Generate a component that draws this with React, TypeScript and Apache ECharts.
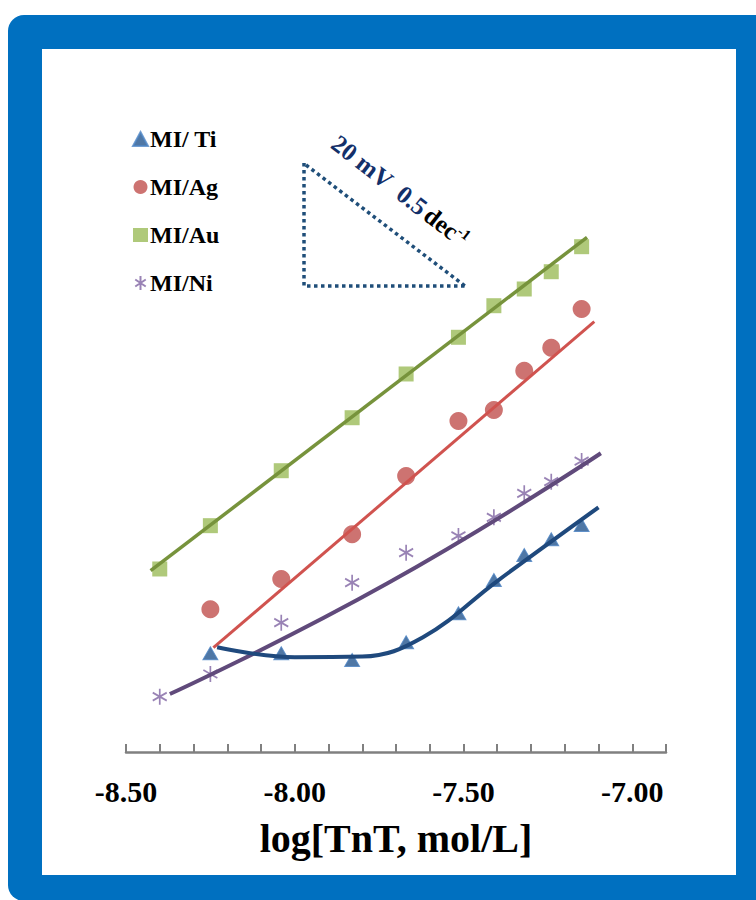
import React, { useEffect, useRef } from "react";
import * as echarts from "echarts";

// log concentrations (x) shared by all sensors
const xVals = [-8.4, -8.25, -8.04, -7.83, -7.67, -7.515, -7.41, -7.32, -7.24, -7.15];
// potentials (mV, relative)
const tiVals = [null, 15.82, 15.82, 14.74, 17.58, 22.23, 27.56, 31.57, 34.09, 36.38];
const agVals = [null, 22.87, 27.72, 34.89, 44.23, 53.04, 54.81, 61.11, 64.79, 70.99];
const auVals = [29.33, 36.27, 45.08, 53.57, 60.58, 66.46, 71.52, 74.2, 76.97, 80.98];
const niVals = [8.86, 12.5, 20.72, 27.13, 31.94, 34.62, 37.61, 41.46, 43.32, 46.63];

// fitted calibration lines
const auFitX = [-8.427, -7.134];
const auFitY = [29.05, 82.48];
const agFitX = [-8.241, -7.1125];
const agFitY = [16.71, 68.96];
const niFitX = [-8.37, -7.725, -7.093];
const niFitY = [9.29, 27.03, 47.87];
const tiFitX = [-8.23, -8.0, -7.8, -7.62, -7.4, -7.1];
const tiFitY = [16.78, 15.2, 15.3, 18.4, 27.4, 39.21];

const seriesNames = ["MI/ Ti", "MI/Ag", "MI/Au", "MI/Ni"];
const xTickLabels = ["-8.50", "-8.00", "-7.50", "-7.00"];
const xAxisTitle = "log[TnT, mol/L]";

const FONT = "'Liberation Serif', 'Times New Roman', serif";

const pts = (xs: number[], ys: (number | null)[]) =>
  xs.map((x, i) => [x, ys[i]]).filter((p) => p[1] !== null);

const ASTERISK = "path://M6,0 L6,16 M0,4 L12,12 M0,12 L12,4";

export default function App() {
  const ref = useRef<HTMLDivElement>(null);
  useEffect(() => {
    if (!ref.current) return;
    const chart = echarts.init(ref.current, null, { renderer: "svg" });
    const option: any = {
      animation: false,
      backgroundColor: "transparent",
      grid: { left: 126, right: 90, top: 128, bottom: 148 },
      xAxis: {
        type: "value",
        min: -8.5,
        max: -6.9,
        interval: 0.1,
        name: xAxisTitle,
        nameLocation: "middle",
        nameGap: 66,
        nameTextStyle: { fontFamily: FONT, fontWeight: "bold", fontSize: 40, color: "#000" },
        axisLine: { show: true, lineStyle: { color: "#808080", width: 2.5 } },
        axisTick: { show: true, inside: true, length: 8, lineStyle: { color: "#808080", width: 2 } },
        axisLabel: {
          interval: 0,
          margin: 24,
          fontFamily: FONT,
          fontWeight: "bold",
          fontSize: 30,
          color: "#000",
          formatter: (v: number) => {
            const r = Math.round(v * 10);
            if (r % 5 !== 0) return "";
            const idx = Math.round((v + 8.5) / 0.5);
            return xTickLabels[idx] ?? "";
          },
        },
        splitLine: { show: false },
      },
      yAxis: { type: "value", min: 0, max: 100, show: false, splitLine: { show: false } },
      legend: {
        data: seriesNames,
        orient: "vertical",
        left: 127,
        top: 122,
        itemGap: 24,
        itemWidth: 15,
        itemHeight: 14,
        textStyle: { fontFamily: FONT, fontWeight: "bold", fontSize: 24, color: "#000", padding: [0, 0, 0, -3] },
      },
      graphic: [
        {
          type: "rect",
          z: -10,
          silent: true,
          shape: { x: 8, y: 15, width: 770, height: 886, r: 16 },
          style: { fill: "#0070C0" },
        },
        {
          type: "rect",
          z: -9,
          silent: true,
          shape: { x: 42, y: 49, width: 694, height: 826 },
          style: { fill: "#ffffff" },
        },
        {
          type: "polyline",
          silent: true,
          shape: { points: [[304, 163], [304, 286], [465, 286]] },
          style: { stroke: "#1F4E79", lineWidth: 3.5, lineDash: [3.5, 3.5], fill: "none" },
        },
        {
          type: "line",
          silent: true,
          shape: { x1: 306, y1: 165, x2: 465, y2: 286 },
          style: { stroke: "#1F4E79", lineWidth: 3.5, lineDash: [3.5, 3.5] },
        },
        {
          type: "text",
          silent: true,
          x: 400,
          y: 191,
          rotation: -0.66,
          style: {
            text: "{a|20 mV  0.5} {b|dec}{c|-1}",
            align: "center",
            verticalAlign: "middle",
            rich: {
              a: { fill: "#13306A", fontFamily: FONT, fontWeight: "bold", fontSize: 25, lineHeight: 27 },
              b: { fill: "#000", fontFamily: FONT, fontWeight: "bold", fontSize: 25, lineHeight: 27 },
              c: { fill: "#000", fontFamily: FONT, fontWeight: "bold", fontSize: 15, lineHeight: 27, verticalAlign: "top" },
            },
          },
        },
      ],
      series: [
        {
          name: "MI/ Ti",
          type: "scatter",
          z: 2,
          symbol: "triangle",
          symbolSize: [15, 13],
          itemStyle: { color: "#23558F", borderColor: "#4F86C6", borderWidth: 1 },
          data: pts(xVals, tiVals),
        },
        {
          name: "MI/Ag",
          type: "scatter",
          z: 2,
          symbol: "circle",
          symbolSize: 18,
          itemStyle: { color: "#C0504D" },
          data: pts(xVals, agVals),
        },
        {
          name: "MI/Au",
          type: "scatter",
          z: 2,
          symbol: "rect",
          symbolSize: 15,
          itemStyle: { color: "#9BBB59" },
          data: pts(xVals, auVals),
        },
        {
          name: "MI/Ni",
          type: "scatter",
          z: 2,
          symbol: ASTERISK,
          symbolSize: [14, 16],
          itemStyle: { color: "transparent", borderColor: "#8064A2", borderWidth: 1.8 },
          data: pts(xVals, niVals),
        },
        {
          name: "Au fit",
          type: "line",
          z: 3,
          symbol: "none",
          lineStyle: { color: "#77933C", width: 3.5 },
          data: pts(auFitX, auFitY),
        },
        {
          name: "Ag fit",
          type: "line",
          z: 3,
          symbol: "none",
          lineStyle: { color: "#D0534F", width: 3 },
          data: pts(agFitX, agFitY),
        },
        {
          name: "Ni fit",
          type: "line",
          z: 3,
          symbol: "none",
          smooth: 0.5,
          lineStyle: { color: "#604A7B", width: 4 },
          data: pts(niFitX, niFitY),
        },
        {
          name: "Ti fit",
          type: "line",
          z: 3,
          symbol: "none",
          smooth: 0.4,
          lineStyle: { color: "#1F497D", width: 4 },
          data: pts(tiFitX, tiFitY),
        },
      ],
    };
    chart.setOption(option);
    return () => chart.dispose();
  }, []);
  return (
    <div
      ref={ref}
      style={{ position: "fixed", left: 0, top: 0, width: 756, height: 900, background: "#fff" }}
    />
  );
}
